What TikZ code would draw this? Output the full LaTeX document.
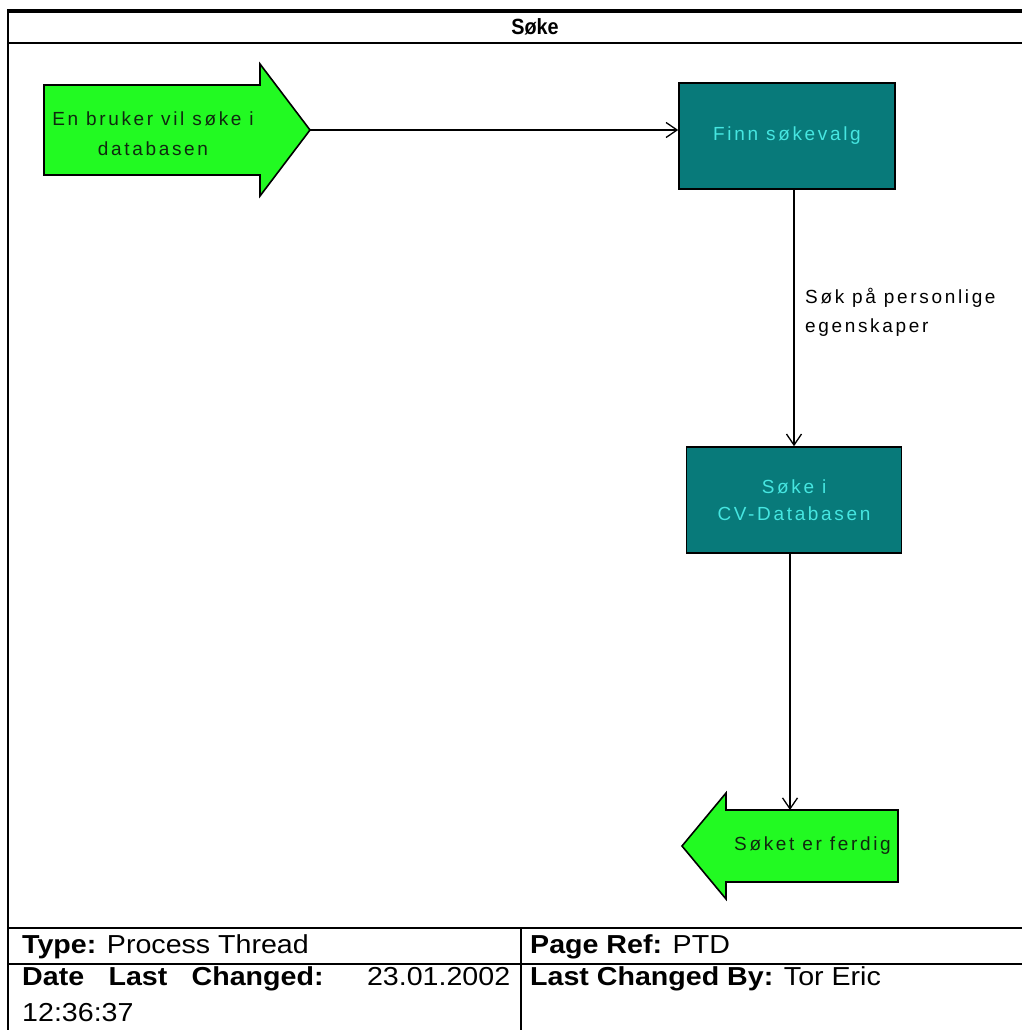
\documentclass[tikz,border=0pt]{standalone}
\usepackage{fontspec}
\setmainfont{Liberation Sans}
\newfontfamily\diagfont[LetterSpace=14]{Liberation Sans}
\newfontfamily\footfont[FakeStretch=1.1]{Liberation Sans}
\newfontfamily\titlefont[FakeStretch=0.9]{Liberation Sans}
\usetikzlibrary{arrows.meta}

\definecolor{flowgreen}{RGB}{34,250,34}
\definecolor{procteal}{RGB}{8,122,122}
\definecolor{proctext}{RGB}{70,230,225}
\definecolor{greentext}{RGB}{15,40,15}

\tikzset{
  frameline/.style={draw=black, line width=2pt},
  flowarrow/.style={draw=black, line width=1.6pt, fill=flowgreen, line join=miter},
  flowtext/.style={text=greentext, font=\diagfont\fontsize{19}{30}\selectfont, align=center, inner sep=0pt},
  proc/.style={draw=black, line width=1.6pt, fill=procteal, text=proctext,
    minimum width=216pt, minimum height=106pt, inner sep=0pt,
    font=\diagfont\fontsize{19}{27}\selectfont, align=center},
  conn/.style={draw=black, line width=1.7pt,
    -{Straight Barb[length=11pt,width=15pt,line width=1.3pt]}},
  edgelabel/.style={font=\diagfont\fontsize{19}{29}\selectfont, align=left, inner sep=0pt},
  foot/.style={font=\footfont\fontsize{26}{30}\selectfont, inner sep=0pt, anchor=base west},
}

\begin{document}
\begin{tikzpicture}[x=1pt, y=-1pt]
  \clip (0,0) rectangle (1022,1030);
  \fill[white] (0,0) rectangle (1022,1030);

  % outer frame and title row
  \draw[draw=black, line width=4pt] (7,11) -- (1022,11);
  \draw[frameline] (8,10) -- (8,1030);
  \draw[frameline] (8,43) -- (1022,43);
  \node[font=\titlefont\bfseries\fontsize{22}{24}\selectfont, anchor=base, inner sep=0pt] (title) at (535,35) {Søke};

  % footer table
  \draw[frameline] (8,928) -- (1022,928);
  \draw[frameline] (8,964) -- (1022,964);
  \draw[frameline] (521,928) -- (521,1030);

  % start event
  \path[flowarrow] (44,85) -- (260,85) -- (260,64) -- (310,130) -- (260,196) -- (260,175) -- (44,175) -- cycle;
  \coordinate (startTip) at (310,130);
  \node[flowtext] (startTxt) at (153,134) {En bruker vil søke i\\databasen};

  % processes
  \node[proc] (finn) at (787,136) {Finn søkevalg};
  \node[proc, minimum width=215pt] (sokdb) at (794,500) {Søke i\\CV-Databasen};

  % end event
  \path[flowarrow] (898,810) -- (726,810) -- (726,793) -- (682,846) -- (726,899) -- (726,882) -- (898,882) -- cycle;
  \coordinate (endTop) at (790,810);
  \node[flowtext, anchor=west] (endTxt) at (734,846) {Søket er ferdig};

  % connectors
  \draw[conn] (startTip) -- (startTip -| finn.west);
  \draw[conn] (sokdb.north |- finn.south) -- (sokdb.north);
  \draw[conn] (sokdb.south -| endTop) -- (endTop);
  \node[edgelabel, anchor=west] (lblSok) at (805,312) {Søk på personlige\\egenskaper};

  % footer texts
  \node[foot] (typeCell) at (22,953) {\textbf{Type:} Process Thread};
  \node[foot] (refCell) at (530,953) {\textbf{Page Ref:} PTD};
  \node[foot] (dateCell) at (22,985) {\makebox[488pt][s]{\textbf{Date} \textbf{Last} \textbf{Changed:} 23.01.2002}};
  \node[foot] (timeCell) at (22,1021) {12:36:37};
  \node[foot] (byCell) at (530,985) {\textbf{Last Changed By:} Tor Eric};
\end{tikzpicture}
\end{document}
